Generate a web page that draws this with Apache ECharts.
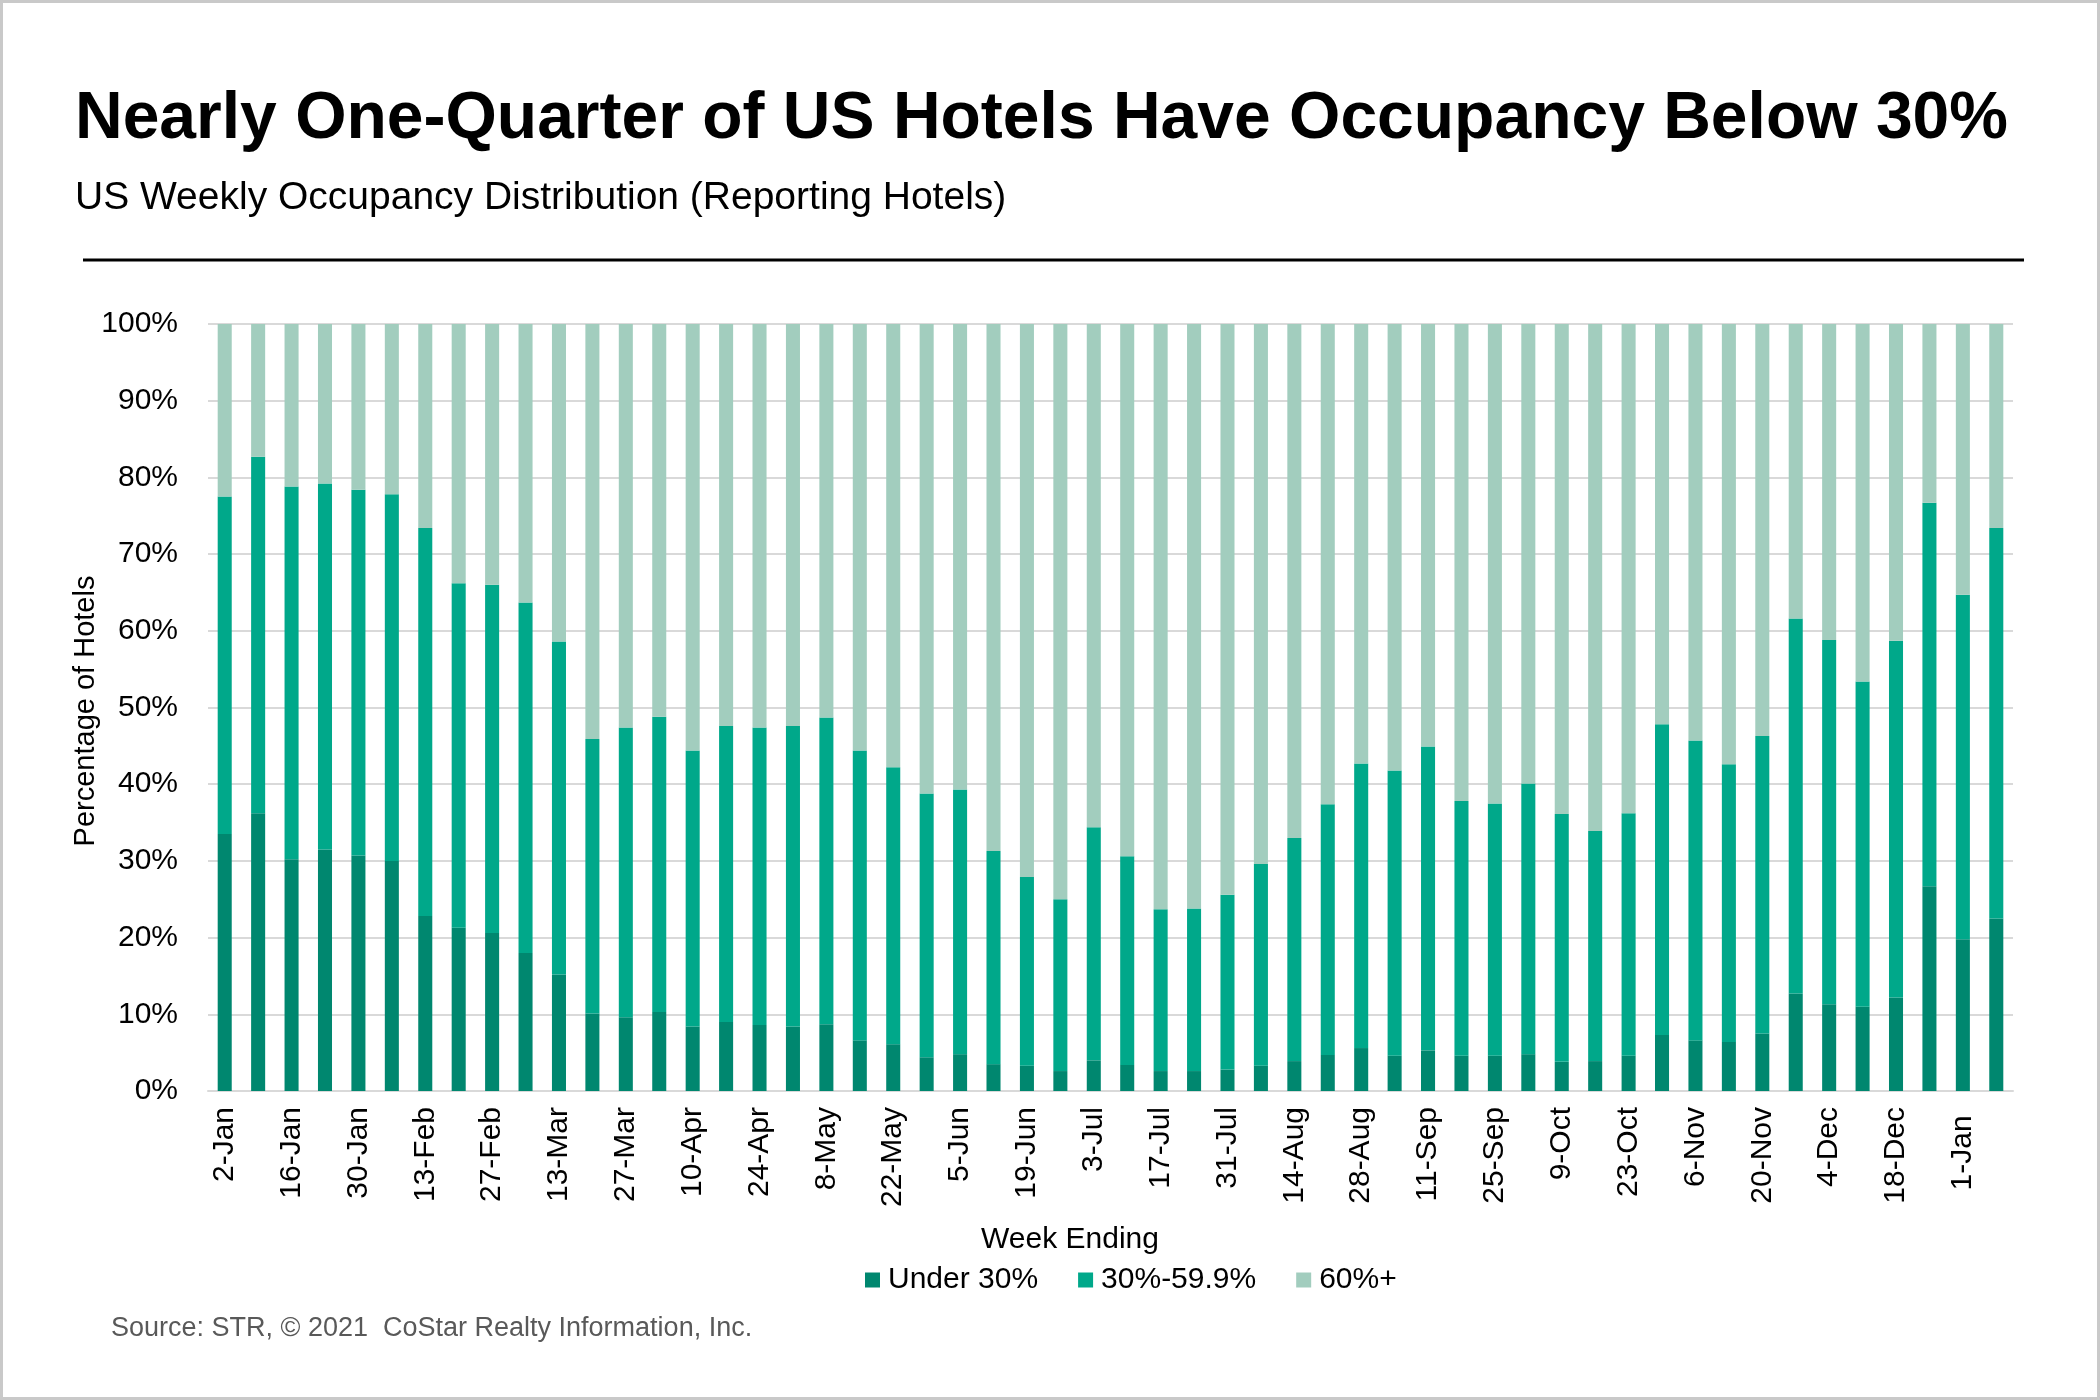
<!DOCTYPE html>
<html>
<head>
<meta charset="utf-8">
<script src="https://cdn.jsdelivr.net/npm/echarts@6/dist/echarts.min.js"></script>
<style>
html,body{margin:0;padding:0;background:#fff;}
#chart{width:2100px;height:1400px;box-sizing:border-box;border:3px solid #c9c9c9;}
</style>
</head>
<body>
<div id="chart"></div>
<script>
const weeks = ['2-Jan','9-Jan','16-Jan','23-Jan','30-Jan','6-Feb','13-Feb','20-Feb','27-Feb','6-Mar','13-Mar','20-Mar','27-Mar','3-Apr','10-Apr','17-Apr','24-Apr','1-May','8-May','15-May','22-May','29-May','5-Jun','12-Jun','19-Jun','26-Jun','3-Jul','10-Jul','17-Jul','24-Jul','31-Jul','7-Aug','14-Aug','21-Aug','28-Aug','4-Sep','11-Sep','18-Sep','25-Sep','2-Oct','9-Oct','16-Oct','23-Oct','30-Oct','6-Nov','13-Nov','20-Nov','27-Nov','4-Dec','11-Dec','18-Dec','25-Dec','1-Jan ','8-Jan'];
const under30 = [33.5,36.2,30.2,31.5,30.7,30.0,22.8,21.3,20.6,18.0,15.2,10.1,9.6,10.3,8.4,9.0,8.6,8.4,8.7,6.6,6.1,4.4,4.8,3.5,3.3,2.6,4.0,3.4,2.6,2.6,2.8,3.3,3.9,4.7,5.6,4.6,5.3,4.6,4.6,4.8,3.8,3.9,4.6,7.3,6.6,6.4,7.5,12.7,11.3,11.0,12.2,26.7,19.8,22.5];
const from30to60 = [44.0,46.5,48.6,47.7,47.7,47.8,50.6,44.9,45.4,45.7,43.4,35.8,37.8,38.5,36.0,38.6,38.8,39.2,40.0,37.8,36.1,34.4,34.5,27.8,24.6,22.4,30.4,27.2,21.1,21.2,22.8,26.3,29.1,32.7,37.1,37.2,39.6,33.2,32.9,35.3,32.3,30.0,31.6,40.5,39.1,36.2,38.8,48.9,47.5,42.4,46.5,50.0,44.9,50.9];
const over60 = [22.5,17.3,21.2,20.8,21.6,22.2,26.6,33.8,34.0,36.3,41.4,54.1,52.6,51.2,55.6,52.4,52.6,52.4,51.3,55.6,57.8,61.2,60.7,68.7,72.1,75.0,65.6,69.4,76.3,76.2,74.4,70.4,67.0,62.6,57.3,58.2,55.1,62.2,62.5,59.9,63.9,66.1,63.8,52.2,54.3,57.4,53.7,38.4,41.2,46.6,41.3,23.3,35.3,26.6];
const seriesNames = ['Under 30%','30%-59.9%','60%+'];
const yTicks = [0,10,20,30,40,50,60,70,80,90,100];

const FONT = '"Liberation Sans", Arial, Helvetica, sans-serif';
const colors = ['#00876F','#00A88A','#A2CDBE'];
const chart = echarts.init(document.getElementById('chart'));
const barW = '42%';
chart.setOption({
  animation:false,
  backgroundColor:'#fff',
  textStyle:{fontFamily:FONT},
  grid:{left:205,right:84,top:321,bottom:306,containLabel:false},
  legend:{
    data:seriesNames,
    left:857, top:1257,
    icon:'rect', itemWidth:15, itemHeight:15, itemGap:40,
    textStyle:{fontFamily:FONT,fontSize:30,color:'#000',padding:[0,0,0,3]}
  },
  xAxis:{
    type:'category', data:weeks,
    axisLine:{show:true,lineStyle:{color:'#d9d9d9',width:2}},
    axisTick:{show:false},
    axisLabel:{interval:1,rotate:90,fontSize:30,color:'#000',margin:16,fontFamily:FONT}
  },
  yAxis:{
    type:'value', min:yTicks[0], max:yTicks[yTicks.length-1], interval:10,
    axisLine:{show:false}, axisTick:{show:false},
    splitLine:{lineStyle:{color:'#d9d9d9',width:2}},
    axisLabel:{formatter:'{value}%',fontSize:30,color:'#000',margin:30,fontFamily:FONT}
  },
  series:[
    {name:seriesNames[0],type:'bar',stack:'s',data:under30,barWidth:barW,itemStyle:{color:colors[0]}},
    {name:seriesNames[1],type:'bar',stack:'s',data:from30to60,barWidth:barW,itemStyle:{color:colors[1]}},
    {name:seriesNames[2],type:'bar',stack:'s',data:over60,barWidth:barW,itemStyle:{color:colors[2]}}
  ],
  graphic:[
    {type:'text',left:72,top:84,style:{text:'Nearly One-Quarter of US Hotels Have Occupancy Below 30%',font:'bold 66px '+FONT,fill:'#000'}},
    {type:'text',left:72,top:176,style:{text:'US Weekly Occupancy Distribution (Reporting Hotels)',font:'39px '+FONT,fill:'#000'}},
    {type:'line',shape:{x1:80,y1:257,x2:2021,y2:257},style:{stroke:'#000',lineWidth:3}},
    {type:'text',x:83,y:708,rotation:Math.PI/2,style:{text:'Percentage of Hotels',font:'29px '+FONT,fill:'#000',textAlign:'center',textVerticalAlign:'middle'}},
    {type:'text',x:1067,y:1237,style:{text:'Week Ending',font:'30px '+FONT,fill:'#000',textAlign:'center',textVerticalAlign:'middle'}},
    {type:'text',x:108,y:1326,style:{text:'Source: STR, \u00A9 2021  CoStar Realty Information, Inc.',font:'27px '+FONT,fill:'#595959',textAlign:'left',textVerticalAlign:'middle'}}
  ]
});
</script>
</body>
</html>
